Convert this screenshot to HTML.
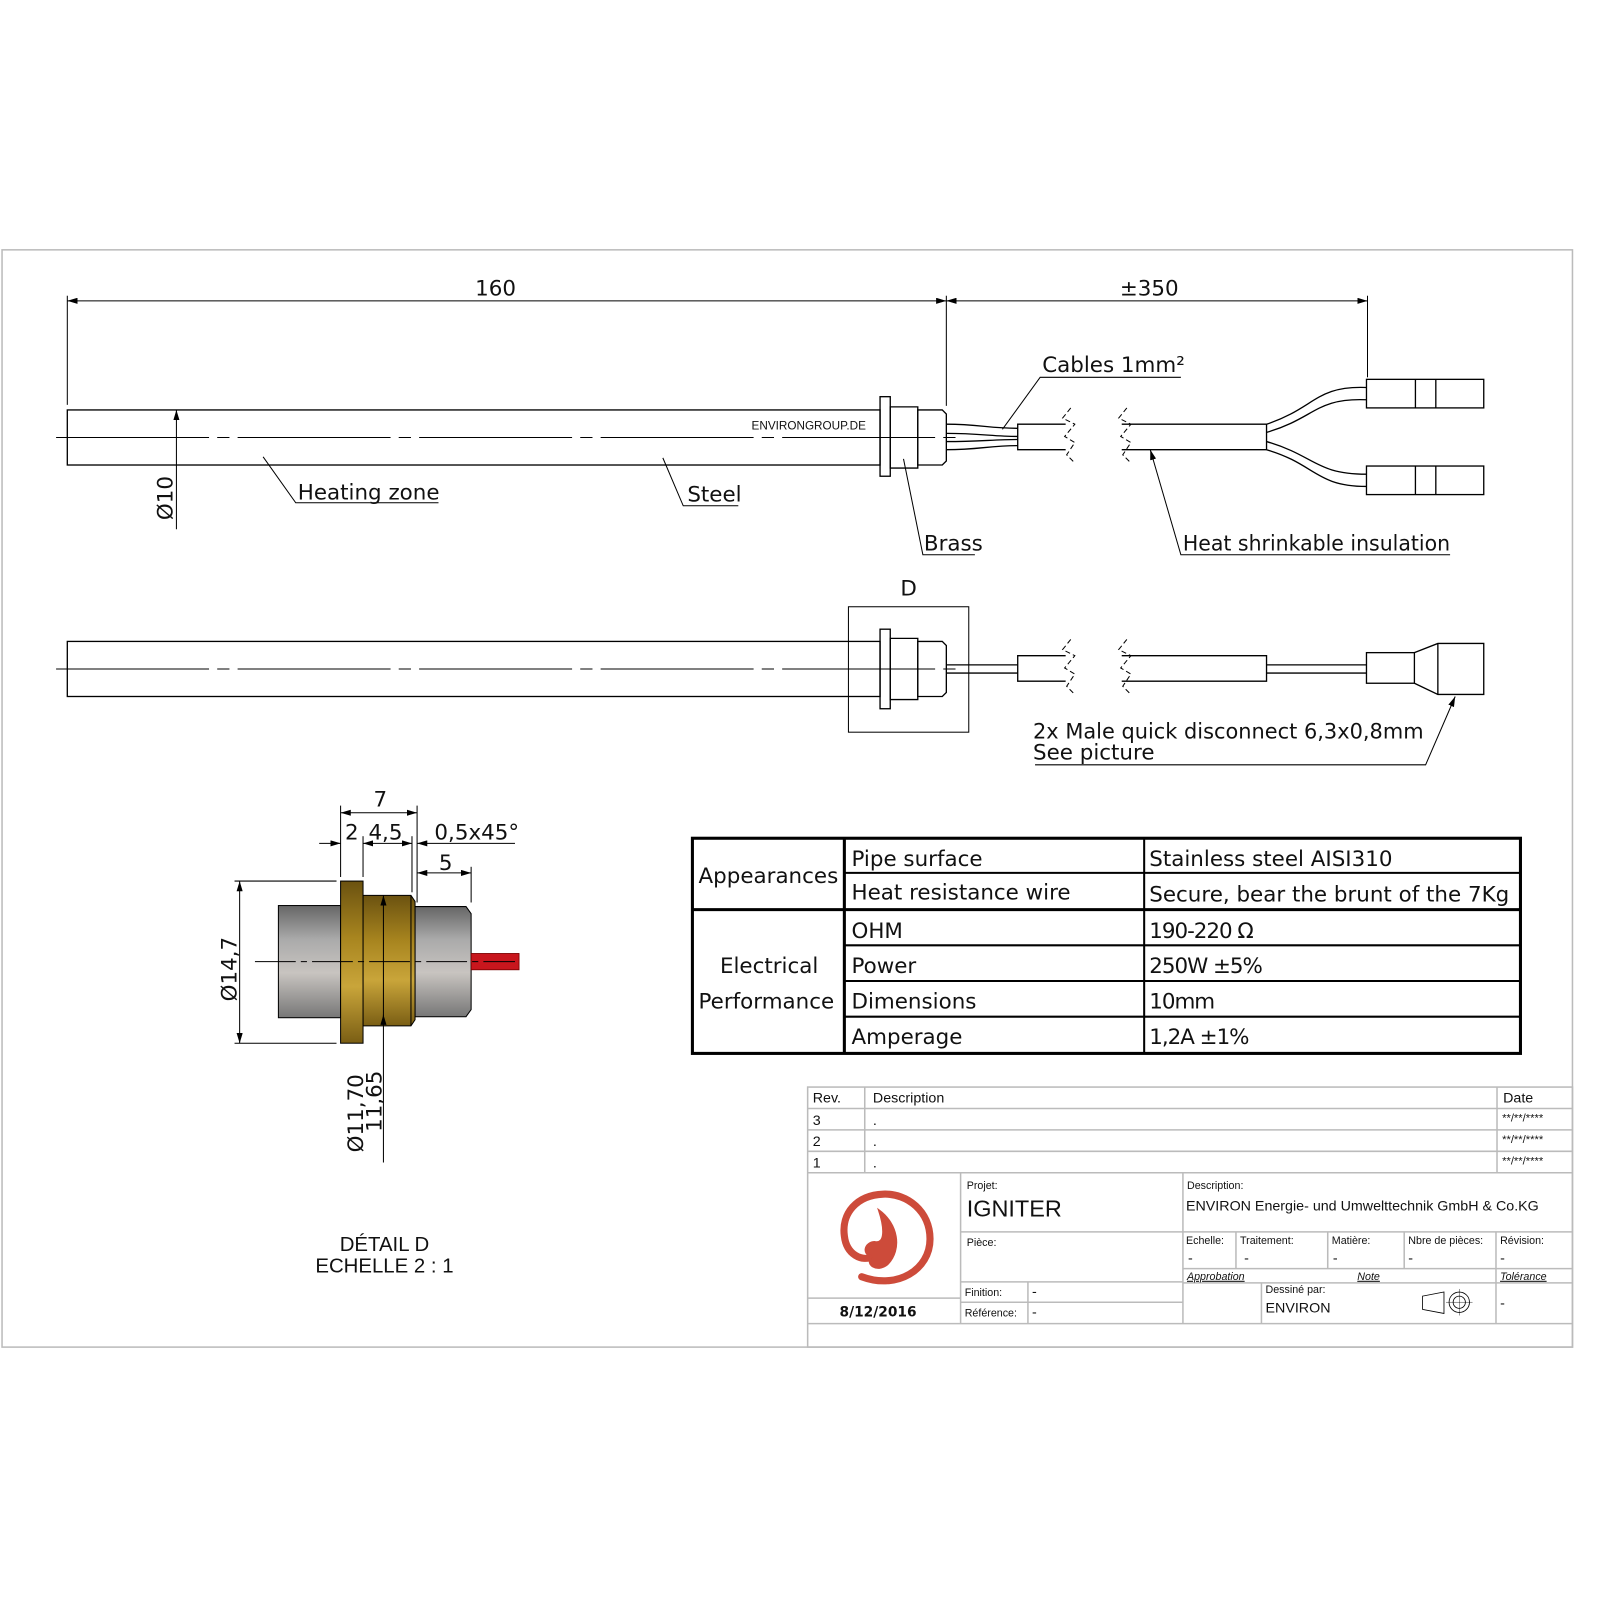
<!DOCTYPE html>
<html><head><meta charset="utf-8"><style>
html,body{margin:0;padding:0;background:#fff;width:1600px;height:1600px;overflow:hidden}
svg{display:block}
text{font-family:"DejaVu Sans","Liberation Sans",sans-serif;fill:#111}
.a{font-family:"Liberation Sans",sans-serif}
</style></head><body>
<svg width="1600" height="1600" viewBox="0 0 1569 1569" xmlns="http://www.w3.org/2000/svg">
<defs>
<marker id="ar" viewBox="0 0 10 6" refX="10" refY="3" markerWidth="10" markerHeight="6" orient="auto-start-reverse" markerUnits="userSpaceOnUse"><path d="M0,0L10,3L0,6z" fill="#000"/></marker>
<linearGradient id="gr" x1="0" y1="0" x2="0" y2="1"><stop offset="0" stop-color="#666"/><stop offset="0.3" stop-color="#aaa"/><stop offset="0.6" stop-color="#c8c4c0"/><stop offset="1" stop-color="#777"/></linearGradient>
<linearGradient id="br" x1="0" y1="0" x2="0" y2="1"><stop offset="0" stop-color="#6b5210"/><stop offset="0.35" stop-color="#a8851f"/><stop offset="0.65" stop-color="#c9a53a"/><stop offset="1" stop-color="#7a5e14"/></linearGradient>
</defs>
<rect x="2" y="245" width="1540" height="1076" fill="none" stroke="#bbb" stroke-width="1.5"/>
<g stroke="#000" stroke-width="1.3" fill="none">
<line x1="66" y1="295" x2="928" y2="295" marker-start="url(#ar)" marker-end="url(#ar)" stroke-width="1"/>
<line x1="928" y1="295" x2="1341" y2="295" marker-start="url(#ar)" marker-end="url(#ar)" stroke-width="1"/>
<line x1="66" y1="290" x2="66" y2="397" stroke-width="1"/>
<line x1="928" y1="290" x2="928" y2="398" stroke-width="1"/>
<line x1="1341" y1="290" x2="1341" y2="370" stroke-width="1"/>
<rect x="66" y="402" width="797" height="54"/>
<line x1="55" y1="429" x2="940" y2="429" stroke-width="1" stroke-dasharray="150,8,12,8"/>
<rect x="863" y="389" width="10" height="78"/>
<path d="M873,399H900V459H873Z"/>
<path d="M900,402H924L928,406V452L924,456H900Z"/>
<path d="M928,416C960,416 970,420 998,420M928,425C960,425 975,428 998,428M928,433C960,433 975,431 998,431M928,441C960,441 970,437 998,437"/>
<path d="M1045,416H998V441H1045"/>
<path d="M1050,400l-8,10 12,6-10,12 10,6-8,12 8,8" stroke-dasharray="5,3" stroke-width="1"/>
<path d="M1105,400l-8,10 12,6-10,12 10,6-8,12 8,8" stroke-dasharray="5,3" stroke-width="1"/>
<path d="M1100,416H1242V441H1100"/>
<path d="M1242,416C1290,400 1290,378 1340,380M1242,424C1290,410 1290,390 1340,392"/>
<path d="M1242,433C1290,447 1290,465 1340,465M1242,441C1290,455 1290,477 1340,477"/>
<rect x="1340" y="372" width="115" height="28"/><line x1="1388" y1="372" x2="1388" y2="400"/><line x1="1408" y1="372" x2="1408" y2="400"/>
<rect x="1340" y="457" width="115" height="28"/><line x1="1388" y1="457" x2="1388" y2="485"/><line x1="1408" y1="457" x2="1408" y2="485"/>
<line x1="173" y1="402" x2="173" y2="519" stroke-width="1" marker-start="url(#ar)"/>
<path d="M258,448L290,493H430" stroke-width="1"/>
<path d="M650,449L670,496H724" stroke-width="1"/>
<path d="M886,450L905,544H956" stroke-width="1"/>
<path d="M1128,441L1158,544H1422" stroke-width="1" marker-start="url(#ar)"/>
<path d="M983,421L1020,370H1158" stroke-width="1"/>
<rect x="66" y="629" width="797" height="54"/>
<line x1="55" y1="656" x2="940" y2="656" stroke-width="1" stroke-dasharray="150,8,12,8"/>
<rect x="863" y="617" width="10" height="78"/>
<path d="M873,626H900V686H873Z"/>
<path d="M900,629H924L928,633V679L924,683H900Z"/>
<rect x="832" y="595" width="118" height="123" stroke-width="1"/>
<path d="M928,652H998M928,660H998"/>
<path d="M1045,643H998V668H1045"/>
<path d="M1050,627l-8,10 12,6-10,12 10,6-8,12 8,8" stroke-dasharray="5,3" stroke-width="1"/>
<path d="M1105,627l-8,10 12,6-10,12 10,6-8,12 8,8" stroke-dasharray="5,3" stroke-width="1"/>
<path d="M1100,643H1242V668H1100"/>
<path d="M1242,652H1340M1242,660H1340"/>
<rect x="1340" y="640" width="47" height="30"/>
<path d="M1387,640L1410,631H1455V681H1410L1387,670"/><line x1="1410" y1="631" x2="1410" y2="681"/>
<path d="M1427,683L1398,750H1015" stroke-width="1" marker-start="url(#ar)"/>
</g>
<rect x="273" y="888" width="61" height="110" fill="url(#gr)" stroke="#000"/>
<path d="M407,889H457L462,896V990L457,997H407Z" fill="url(#gr)" stroke="#000"/>
<rect x="462" y="935" width="47" height="16" fill="#c8161d" stroke="#700" stroke-width="0.8"/>
<path d="M356,878H403L407,884V1000L403,1006H356Z" fill="url(#br)" stroke="#000"/>
<rect x="334" y="864" width="22" height="159" fill="url(#br)" stroke="#000"/>
<line x1="403" y1="878" x2="403" y2="1006" stroke="#000"/>
<g stroke="#000" stroke-width="1" fill="none">
<line x1="250" y1="943" x2="505" y2="943" stroke-dasharray="40,5,6,5"/>
<line x1="334" y1="797" x2="409" y2="797" marker-start="url(#ar)" marker-end="url(#ar)"/>
<line x1="334" y1="790" x2="334" y2="860"/><line x1="409" y1="790" x2="409" y2="885"/>
<line x1="356" y1="820" x2="356" y2="860"/><line x1="404" y1="820" x2="404" y2="875"/>
<line x1="313" y1="827" x2="334" y2="827" marker-end="url(#ar)"/>
<line x1="356" y1="827" x2="404" y2="827" marker-start="url(#ar)" marker-end="url(#ar)"/>
<line x1="409" y1="827" x2="505" y2="827" marker-start="url(#ar)"/>
<line x1="409" y1="856" x2="462" y2="856" marker-start="url(#ar)" marker-end="url(#ar)"/>
<line x1="462" y1="850" x2="462" y2="885"/>
<line x1="230" y1="864" x2="330" y2="864"/><line x1="230" y1="1023" x2="330" y2="1023"/>
<line x1="235" y1="864" x2="235" y2="1023" marker-start="url(#ar)" marker-end="url(#ar)"/>
<line x1="376" y1="878" x2="376" y2="1140" marker-start="url(#ar)"/>
<line x1="376" y1="1006" x2="376" y2="995" marker-end="url(#ar)"/>
</g>
<g font-size="21">
<text x="486" y="290" text-anchor="middle">160</text>
<text x="1127" y="290" text-anchor="middle">±350</text>
<text x="1022" y="365">Cables 1mm²</text>
<text x="292" y="490">Heating zone</text>
<text x="674" y="492">Steel</text>
<text x="906" y="540">Brass</text>
<text x="1160" y="540" textLength="262" lengthAdjust="spacingAndGlyphs">Heat shrinkable insulation</text>
<text transform="translate(169,510) rotate(-90)">Ø10</text>
<text x="891" y="584" text-anchor="middle">D</text>
<text x="1013" y="724" textLength="383" lengthAdjust="spacingAndGlyphs">2x Male quick disconnect 6,3x0,8mm</text>
<text x="1013" y="745">See picture</text>
<text x="373" y="791" text-anchor="middle">7</text>
<text x="345" y="823" text-anchor="middle">2</text>
<text x="378" y="823" text-anchor="middle">4,5</text>
<text x="426" y="823">0,5x45°</text>
<text x="437" y="853" text-anchor="middle">5</text>
<text transform="translate(232,982) rotate(-90)">Ø14,7</text>
<text transform="translate(356,1130) rotate(-90)">Ø11,70</text>
<text transform="translate(374,1110) rotate(-90)">11,65</text>
<text x="377" y="1227" text-anchor="middle" class="a" font-size="20">DÉTAIL D</text>
<text x="377" y="1248" text-anchor="middle" class="a" font-size="20">ECHELLE 2 : 1</text>
</g>
<text x="737" y="421" class="a" font-size="11.5">ENVIRONGROUP.DE</text>
<g stroke="#000" fill="none">
<rect x="679" y="822" width="812" height="211" stroke-width="3"/>
<line x1="828" y1="822" x2="828" y2="1033" stroke-width="3"/>
<line x1="1122" y1="822" x2="1122" y2="1033" stroke-width="2"/>
<line x1="679" y1="892" x2="1491" y2="892" stroke-width="3"/>
<line x1="828" y1="856" x2="1491" y2="856" stroke-width="2"/>
<line x1="828" y1="927" x2="1491" y2="927" stroke-width="2"/>
<line x1="828" y1="962" x2="1491" y2="962" stroke-width="2"/>
<line x1="828" y1="997" x2="1491" y2="997" stroke-width="2"/>
</g>
<g font-size="21">
<text x="685" y="866">Appearances</text>
<text x="706" y="954">Electrical</text>
<text x="685" y="989">Performance</text>
<text x="835" y="849">Pipe surface</text>
<text x="835" y="882">Heat resistance wire</text>
<text x="835" y="920">OHM</text>
<text x="835" y="954">Power</text>
<text x="835" y="989">Dimensions</text>
<text x="835" y="1024">Amperage</text>
<text x="1127" y="849">Stainless steel AISI310</text>
<text x="1127" y="884">Secure, bear the brunt of the 7Kg</text>
<text x="1127" y="920" letter-spacing="-1">190-220 Ω</text>
<text x="1127" y="954" letter-spacing="-1">250W ±5%</text>
<text x="1127" y="989" letter-spacing="-1">10mm</text>
<text x="1127" y="1024" letter-spacing="-1">1,2A ±1%</text>
</g>
<g stroke="#bbb" stroke-width="1.5" fill="none">
<rect x="792" y="1066" width="750" height="255"/>
<line x1="792" y1="1087" x2="1542" y2="1087"/><line x1="792" y1="1108" x2="1542" y2="1108"/>
<line x1="792" y1="1129" x2="1542" y2="1129"/><line x1="792" y1="1150" x2="1542" y2="1150"/>
<line x1="848" y1="1066" x2="848" y2="1150"/><line x1="1468" y1="1066" x2="1468" y2="1150"/>
<line x1="792" y1="1298" x2="1542" y2="1298"/>
<line x1="792" y1="1273" x2="942" y2="1273"/>
<line x1="942" y1="1150" x2="942" y2="1298"/>
<line x1="1160" y1="1150" x2="1160" y2="1298"/>
<line x1="942" y1="1208" x2="1542" y2="1208"/>
<line x1="942" y1="1257" x2="1160" y2="1257"/><line x1="942" y1="1277" x2="1160" y2="1277"/>
<line x1="1008" y1="1257" x2="1008" y2="1298"/>
<line x1="1160" y1="1244" x2="1542" y2="1244"/><line x1="1160" y1="1258" x2="1542" y2="1258"/>
<line x1="1212" y1="1208" x2="1212" y2="1244"/><line x1="1302" y1="1208" x2="1302" y2="1244"/>
<line x1="1377" y1="1208" x2="1377" y2="1244"/><line x1="1467" y1="1208" x2="1467" y2="1298"/>
<line x1="1237" y1="1258" x2="1237" y2="1298"/>
</g>
<g class="a" font-size="14">
<text class="a" x="797" y="1081">Rev.</text><text class="a" x="856" y="1081">Description</text><text class="a" x="1474" y="1081">Date</text>
<text class="a" x="797" y="1103">3</text><text class="a" x="797" y="1124">2</text><text class="a" x="797" y="1145">1</text>
<text class="a" x="856" y="1103">.</text><text class="a" x="856" y="1124">.</text><text class="a" x="856" y="1145">.</text>
<text class="a" x="1473" y="1100" font-size="11">**/**/****</text><text class="a" x="1473" y="1121" font-size="11">**/**/****</text><text class="a" x="1473" y="1142" font-size="11">**/**/****</text>
<text class="a" x="948" y="1166" font-size="10.5">Projet:</text>
<text class="a" x="948" y="1193" font-size="23">IGNITER</text>
<text class="a" x="948" y="1222" font-size="10.5">Pièce:</text>
<text class="a" x="946" y="1271" font-size="10.5">Finition:</text><text class="a" x="1012" y="1271">-</text>
<text class="a" x="946" y="1291" font-size="10.5">Référence:</text><text class="a" x="1012" y="1291">-</text>
<text class="a" x="1164" y="1166" font-size="10.5">Description:</text>
<text class="a" x="1163" y="1187">ENVIRON Energie- und Umwelttechnik GmbH &amp; Co.KG</text>
<text class="a" x="1163" y="1220" font-size="10.5">Echelle:</text>
<text class="a" x="1216" y="1220" font-size="10.5">Traitement:</text>
<text class="a" x="1306" y="1220" font-size="10.5">Matière:</text>
<text class="a" x="1381" y="1220" font-size="10.5">Nbre de pièces:</text>
<text class="a" x="1471" y="1220" font-size="10.5">Révision:</text>
<text class="a" x="1165" y="1238">-</text><text class="a" x="1220" y="1238">-</text><text class="a" x="1307" y="1238">-</text><text class="a" x="1381" y="1238">-</text><text class="a" x="1471" y="1238">-</text>
<text class="a" x="1164" y="1255" font-size="10.5" font-style="italic" text-decoration="underline">Approbation</text>
<text class="a" x="1331" y="1255" font-size="10.5" font-style="italic" text-decoration="underline">Note</text>
<text class="a" x="1471" y="1255" font-size="10.5" font-style="italic" text-decoration="underline">Tolérance</text>
<text class="a" x="1241" y="1268" font-size="10.5">Dessiné par:</text>
<text class="a" x="1241" y="1287">ENVIRON</text>
<text class="a" x="1471" y="1282">-</text>
<text x="861" y="1291" text-anchor="middle" font-size="13.5" font-weight="bold">8/12/2016</text>
</g>
<g stroke="#000" stroke-width="0.8" fill="none">
<path d="M1395,1271L1416,1267V1288L1395,1284Z"/>
<circle cx="1431" cy="1277" r="10"/><circle cx="1431" cy="1277" r="6"/>
<line x1="1418" y1="1277" x2="1444" y2="1277" stroke-width="0.4"/><line x1="1431" y1="1264" x2="1431" y2="1290" stroke-width="0.4"/>
</g>
<g fill="none" stroke="#cd4b3a" stroke-linecap="round">
<path d="M845,1252C880,1265 912,1245 912,1215C912,1188 890,1170 866,1171C840,1172 825,1190 828,1212C830,1230 845,1238 857,1232" stroke-width="7"/>
<path d="M862,1187C880,1200 885,1225 870,1240C860,1248 848,1240 855,1232C845,1230 848,1218 858,1218C868,1220 868,1205 862,1187Z" fill="#cd4b3a" stroke-width="2"/>
</g>
</svg>
</body></html>
